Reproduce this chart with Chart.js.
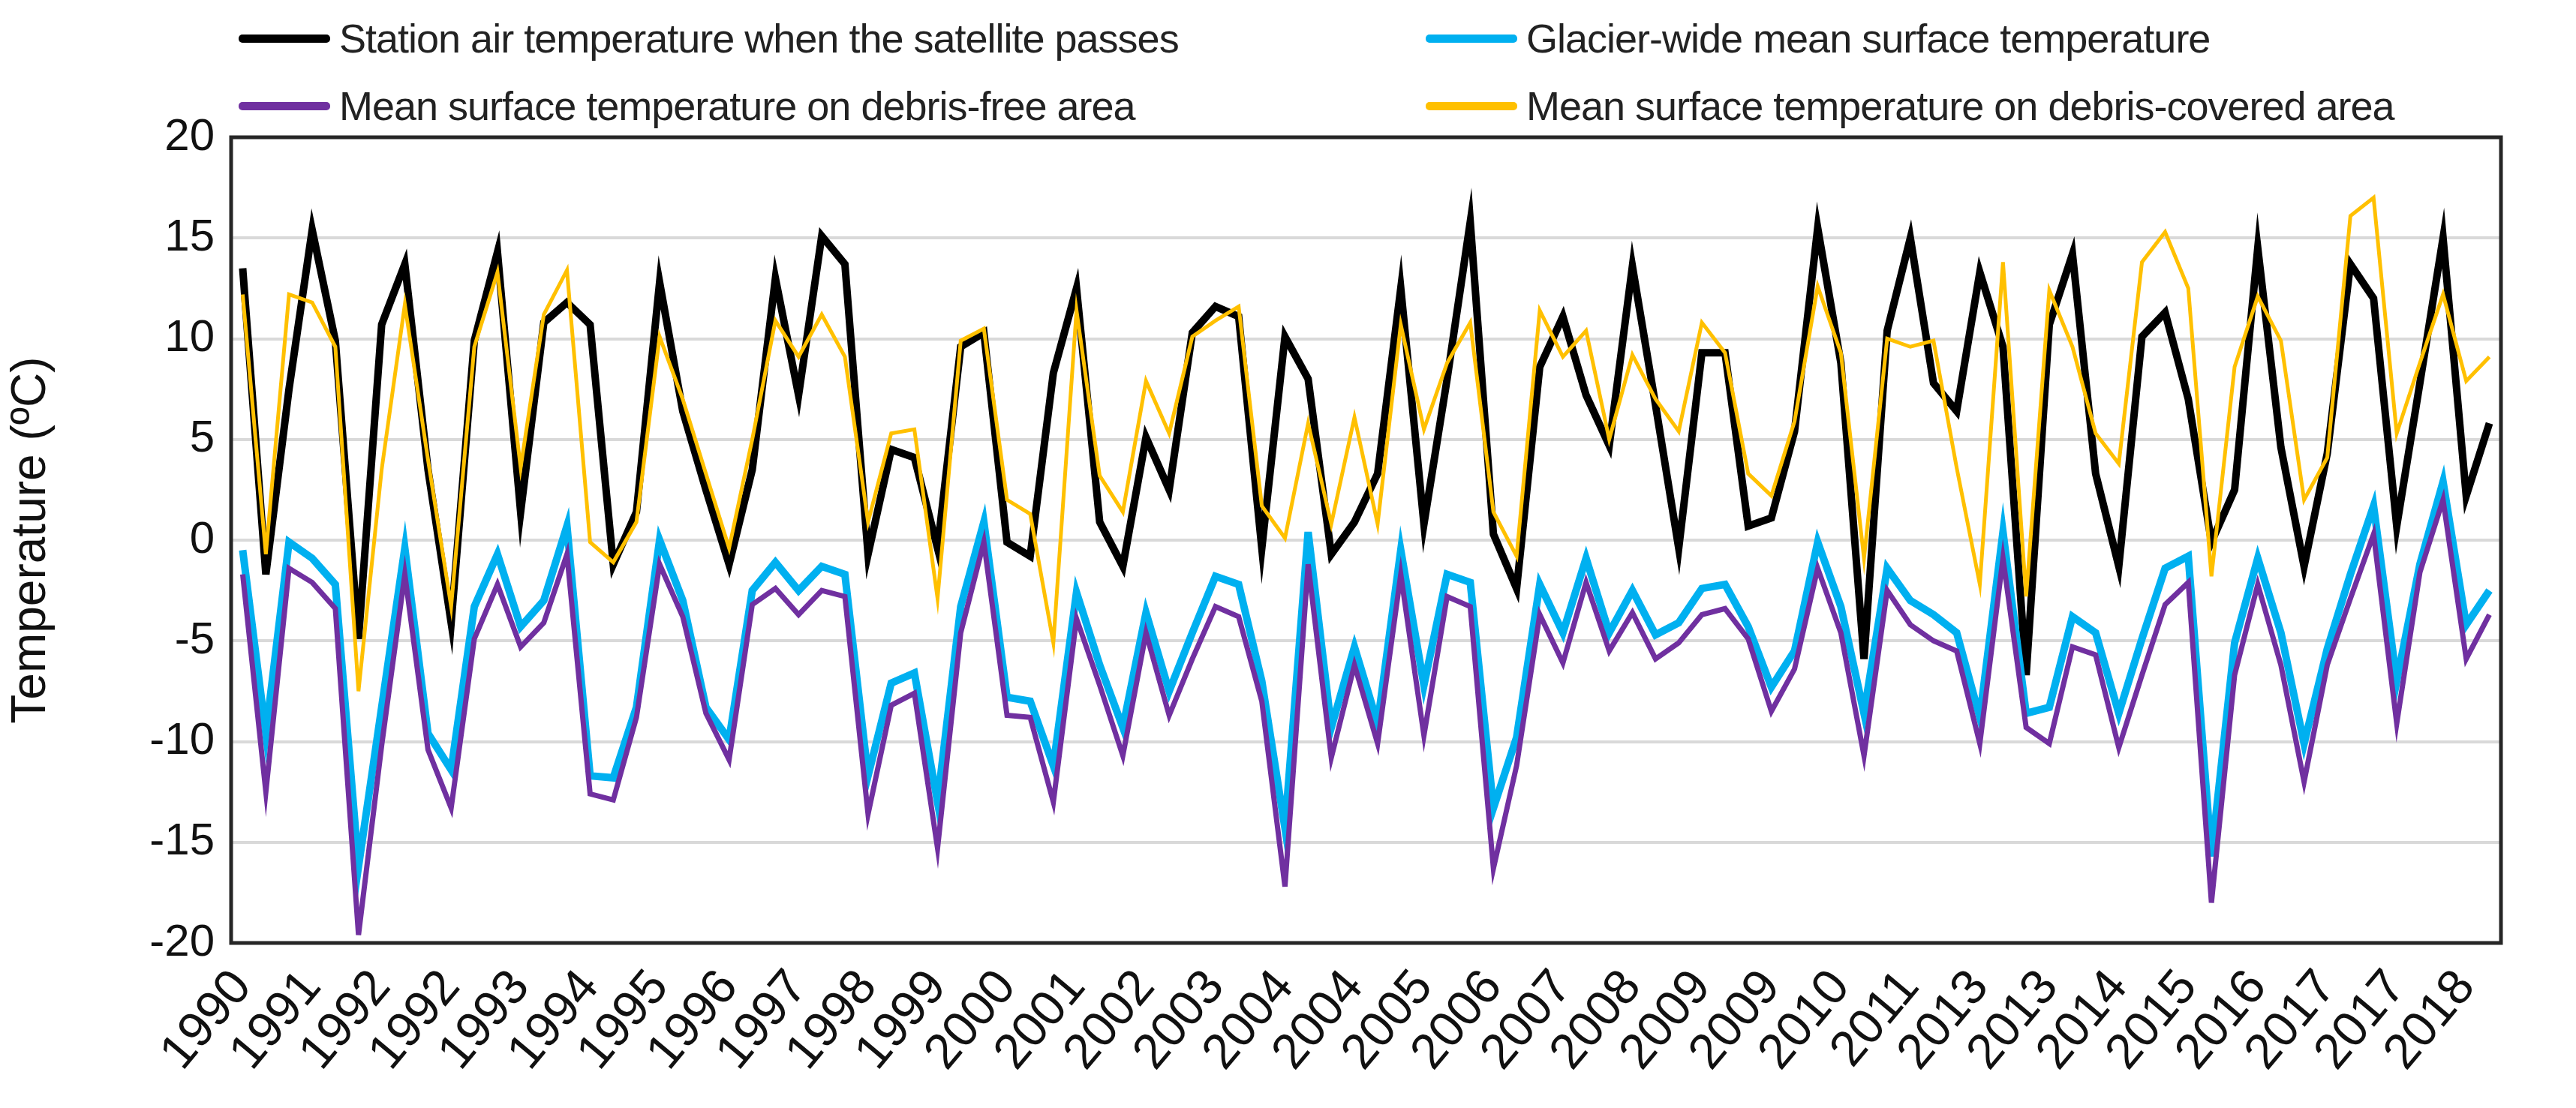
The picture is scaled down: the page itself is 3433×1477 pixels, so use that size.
<!DOCTYPE html>
<html>
<head>
<meta charset="utf-8">
<script src="https://cdn.jsdelivr.net/npm/chart.js@4/dist/chart.umd.min.js"></script>
<style>
  body { margin: 0; background: #fff; font-family: "Liberation Sans", Arial, sans-serif; }
  #wrap { position: relative; width: 3433px; height: 1477px; }
  .leg { position: absolute; display: flex; align-items: center; font-size: 54px; color: #222; white-space: nowrap; letter-spacing: -1px; }
  .leg span.sw { display: inline-block; width: 122px; height: 11px; margin-right: 12px; border-radius: 5px; }
</style>
</head>
<body>
<div id="wrap">
  <canvas id="chart" width="3433" height="1477"></canvas>
  <div class="leg" style="left:318px; top:20px;"><span class="sw" style="background:#000"></span>Station air temperature when the satellite passes</div>
  <div class="leg" style="left:1900px; top:20px;"><span class="sw" style="background:#00b0f0"></span>Glacier-wide mean surface temperature</div>
  <div class="leg" style="left:318px; top:110px;"><span class="sw" style="background:#7030a0"></span>Mean surface temperature on debris-free area</div>
  <div class="leg" style="left:1900px; top:110px;"><span class="sw" style="background:#ffc000"></span>Mean surface temperature on debris-covered area</div>
</div>
<script>
// year labels, shown on every third point
const yearLabels = [1990,1991,1992,1992,1993,1994,1995,1996,1997,1998,1999,2000,2001,2002,2003,2004,2004,2005,2006,2007,2008,2009,2009,2010,2011,2013,2013,2014,2015,2016,2017,2017,2018];

const stationAir = [
  13.5,-1.7,7.5,15.4,9.9,-4.9,10.7,13.7,3.5,-4.1,9.9,14.3,
  1.4,10.8,11.8,10.7,-1.2,1.4,12.8,6.4,2.5,-1.2,3.5,
  13.0,7.2,15.1,13.7,-0.7,4.5,4.1,-0.4,9.6,10.3,-0.1,
  -0.8,8.3,12.5,0.9,-1.3,5.1,2.5,10.3,11.6,11.1,-0.4,
  10.1,8.0,-0.7,0.9,3.3,12.5,0.8,8.0,15.8,0.3,-2.4,
  8.6,11.1,7.2,4.7,13.6,6.7,-0.4,9.3,9.3,0.7,1.1,
  5.4,15.5,8.8,-5.9,10.4,15.0,7.8,6.4,13.3,9.6,-6.7,
  10.7,14.2,3.3,-1.3,10.1,11.3,7.0,-0.1,2.5,14.5,4.6,
  -1.3,4.3,13.7,12.0,0.7,7.8,15.0,2.2,5.8
];
const glacierWide = [
  -0.5,-9.6,-0.1,-0.9,-2.2,-16.2,-8.3,-0.4,-9.6,-11.4,-3.3,-0.7,
  -4.3,-3.0,0.7,-11.7,-11.8,-8.3,0.0,-3.0,-8.3,-9.9,-2.5,
  -1.1,-2.5,-1.3,-1.7,-11.7,-7.1,-6.6,-13.0,-3.3,0.9,-7.8,
  -8.0,-11.2,-2.6,-6.2,-9.3,-3.6,-7.5,-4.6,-1.8,-2.2,-7.0,
  -14.3,0.4,-9.3,-5.3,-9.1,-0.5,-7.2,-1.7,-2.1,-13.3,-9.8,
  -2.2,-4.6,-0.9,-4.6,-2.5,-4.7,-4.1,-2.4,-2.2,-4.3,-7.3,
  -5.5,-0.1,-3.3,-8.6,-1.4,-3.0,-3.7,-4.6,-8.8,0.4,-8.6,
  -8.3,-3.8,-4.6,-8.6,-4.9,-1.4,-0.8,-15.7,-5.1,-0.9,-4.6,
  -10.1,-5.4,-1.7,1.7,-7.0,-1.2,2.9,-4.2,-2.5
];
const debrisFree = [
  -1.7,-12.5,-1.4,-2.1,-3.4,-19.6,-10.2,-1.7,-10.4,-13.3,-4.9,-2.2,
  -5.3,-4.1,-0.7,-12.6,-12.9,-8.8,-1.2,-3.8,-8.6,-10.9,-3.2,
  -2.4,-3.7,-2.5,-2.8,-13.6,-8.2,-7.6,-15.3,-4.6,-0.1,-8.7,
  -8.8,-13.0,-3.9,-7.2,-10.7,-4.6,-8.7,-5.9,-3.3,-3.8,-8.0,
  -17.2,-1.2,-10.8,-6.2,-10.1,-1.7,-9.7,-2.8,-3.3,-16.3,-11.2,
  -3.7,-6.1,-2.1,-5.5,-3.6,-5.9,-5.1,-3.7,-3.4,-4.9,-8.5,
  -6.4,-1.4,-4.6,-10.7,-2.5,-4.2,-5.0,-5.5,-10.1,-0.9,-9.3,
  -10.1,-5.3,-5.7,-10.3,-6.7,-3.2,-2.1,-18.0,-6.7,-2.2,-6.2,
  -12.0,-6.2,-2.9,0.3,-9.1,-1.6,2.0,-5.9,-3.7
];
const debrisCovered = [
  12.2,-0.7,12.2,11.8,9.6,-7.5,3.5,11.7,4.0,-3.3,9.6,13.3,
  3.6,11.2,13.4,-0.1,-1.1,0.9,10.1,7.0,3.3,-0.4,5.0,
  10.9,9.1,11.2,9.1,0.9,5.3,5.5,-2.9,9.9,10.5,2.0,
  1.3,-5.1,11.4,3.2,1.4,7.9,5.3,10.1,10.9,11.6,1.7,
  0.1,5.8,0.8,6.1,0.8,10.7,5.5,8.8,10.8,1.4,-0.8,
  11.4,9.1,10.4,5.0,9.2,7.0,5.4,10.8,9.3,3.3,2.2,
  5.9,12.6,9.3,-0.9,10.0,9.6,9.9,3.6,-2.2,13.8,-2.8,
  12.4,9.6,5.3,3.8,13.8,15.3,12.5,-1.8,8.6,12.1,9.9,
  2.0,4.1,16.1,17.0,5.3,8.8,12.2,7.9,9.1
];

const labels = stationAir.map((v, i) => i % 3 === 0 ? String(yearLabels[i / 3]) : '');

// frame around the plot area
const frame = {
  id: 'frame',
  afterDraw(chart) {
    const a = chart.chartArea, c = chart.ctx;
    c.save();
    c.strokeStyle = '#262626';
    c.lineWidth = 5;
    c.strokeRect(a.left, a.top, a.right - a.left, a.bottom - a.top);
    c.restore();
  }
};

const line = (label, data, color, width, order) => ({
  label, data, borderColor: color, backgroundColor: color,
  borderWidth: width, pointRadius: 0, tension: 0, order
});

new Chart(document.getElementById('chart'), {
  type: 'line',
  data: {
    labels,
    datasets: [
      line('Station air temperature when the satellite passes', stationAir, '#000000', 10, 3),
      line('Glacier-wide mean surface temperature', glacierWide, '#00b0f0', 10, 2),
      line('Mean surface temperature on debris-free area', debrisFree, '#7030a0', 7, 1),
      line('Mean surface temperature on debris-covered area', debrisCovered, '#ffc000', 5, 0)
    ]
  },
  options: {
    responsive: false,
    devicePixelRatio: 1,
    animation: false,
    layout: { padding: { left: 0, top: 183, right: 100, bottom: 0 } },
    plugins: { legend: { display: false }, tooltip: { enabled: false } },
    scales: {
      x: {
        offset: true,
        grid: { display: false },
        border: { display: false },
        ticks: {
          autoSkip: false, minRotation: 50, maxRotation: 50,
          color: '#111', padding: 14,
          font: { family: 'Liberation Sans', size: 66 }
        },
        afterFit(s) { s.height = 220; }
      },
      y: {
        min: -20, max: 20,
        grid: { color: '#d9d9d9', lineWidth: 4, drawTicks: false },
        border: { display: false },
        ticks: { stepSize: 5, color: '#111', padding: 22, font: { family: 'Liberation Sans', size: 60 } },
        title: { display: true, text: 'Temperature (ºC)', color: '#111', font: { family: 'Liberation Sans', size: 64 } },
        afterFit(s) { s.width = 308; }
      }
    }
  },
  plugins: [frame]
});
</script>
</body>
</html>
